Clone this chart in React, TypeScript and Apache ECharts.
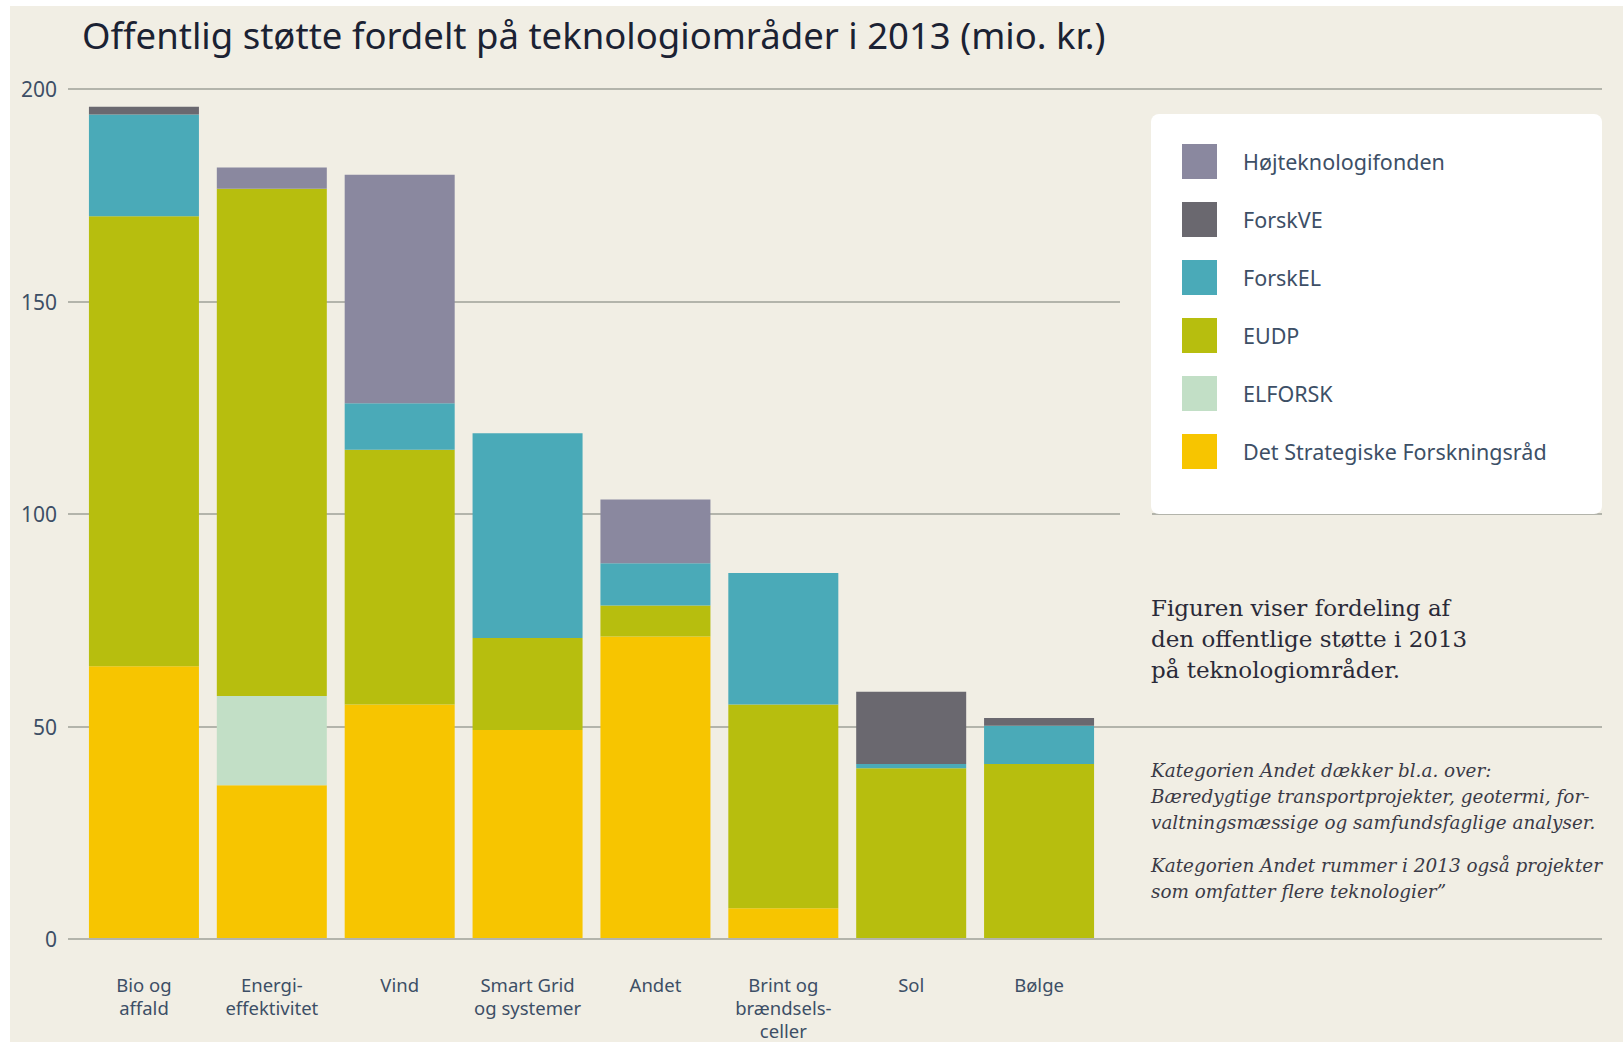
import React, { useEffect, useRef } from "react";
import * as echarts from "echarts";

const categories = [
  "Bio og\naffald",
  "Energi-\neffektivitet",
  "Vind",
  "Smart Grid\nog systemer",
  "Andet",
  "Brint og\nbrændsels-\nceller",
  "Sol",
  "Bølge",
];

const dsf = [64, 36, 55, 49, 71, 7, 0, 0];
const elforsk = [0, 21, 0, 0, 0, 0, 0, 0];
const eudp = [106, 119.5, 60, 21.7, 7.3, 48, 40, 41];
const forskEL = [24, 0, 11, 48.2, 10, 31, 1, 9];
const forskVE = [1.8, 0, 0, 0, 0, 0, 17, 1.8];
const hoejtek = [0, 5, 53.8, 0, 15, 0, 0, 0];

const yTicks = { min: 0, max: 200, interval: 50 };

const seriesDefs = [
  { name: "Det Strategiske Forskningsråd", data: dsf, color: "#f7c500" },
  { name: "ELFORSK", data: elforsk, color: "#c2dfc6" },
  { name: "EUDP", data: eudp, color: "#b7be0e" },
  { name: "ForskEL", data: forskEL, color: "#4aaab8" },
  { name: "ForskVE", data: forskVE, color: "#6a686f" },
  { name: "Højteknologifonden", data: hoejtek, color: "#8a889f" },
];

const legendOrder = [
  "Højteknologifonden",
  "ForskVE",
  "ForskEL",
  "EUDP",
  "ELFORSK",
  "Det Strategiske Forskningsråd",
];

const title = "Offentlig støtte fordelt på teknologiområder i 2013 (mio. kr.)";
const note1 = "Figuren viser fordeling af\nden offentlige støtte i 2013\npå teknologiområder.";
const note2 =
  "Kategorien Andet dækker bl.a. over:\nBæredygtige transportprojekter, geotermi, for-\nvaltningsmæssige og samfundsfaglige analyser.";
const note3 = "Kategorien Andet rummer i 2013 også projekter\nsom omfatter flere teknologier”";

const BG = "#f1eee4";
const LABEL = "#3d4f66";

export default function App() {
  const ref = useRef<HTMLDivElement>(null);
  useEffect(() => {
    if (!ref.current) return;
    const chart = echarts.init(ref.current, null, { renderer: "svg" });
    chart.setOption({
      animation: false,
      backgroundColor: BG,
      title: {
        text: title,
        left: 82,
        top: 14,
        padding: 0,
        textStyle: {
          fontFamily: "Noto Sans",
          fontSize: 36.5,
          fontWeight: "normal",
          color: "#1b2233",
          lineHeight: 42,
        },
      },
      grid: [
        { left: 68, right: 21, top: 89, bottom: 103 },
        { left: 80, right: 520, top: 89, bottom: 103 },
      ],
      xAxis: [
        { type: "value", gridIndex: 0, show: false, min: 0, max: 1 },
        {
          type: "category",
          gridIndex: 1,
          data: categories,
          axisLine: { show: false },
          axisTick: { show: false },
          axisLabel: {
            margin: 35,
            fontFamily: "Noto Sans",
            fontSize: 18.5,
            lineHeight: 23,
            color: LABEL,
            interval: 0,
          },
        },
      ],
      yAxis: [
        {
          type: "value",
          gridIndex: 0,
          ...yTicks,
          axisLine: { show: false },
          axisTick: { show: false },
          axisLabel: {
            margin: 11,
            fontFamily: "Noto Sans",
            fontSize: 21,
            color: LABEL,
          },
          splitLine: { lineStyle: { color: "#b3b4ab", width: 2 } },
        },
        {
          type: "value",
          gridIndex: 1,
          ...yTicks,
          show: false,
          splitLine: { show: false },
        },
      ],
      legend: {
        orient: "vertical",
        left: 1182,
        top: 144,
        padding: 0,
        itemWidth: 35,
        itemHeight: 35,
        itemGap: 23,
        icon: "rect",
        z: 20,
        data: legendOrder,
        selectedMode: false,
        textStyle: {
          fontFamily: "Noto Sans",
          fontSize: 21.5,
          color: LABEL,
          padding: [0, 0, 0, 21],
        },
      },
      graphic: [
        { type: "rect", z: -5, shape: { x: 0, y: 0, width: 1623, height: 6 }, style: { fill: "#ffffff" } },
        { type: "rect", z: -5, shape: { x: 0, y: 0, width: 10, height: 1042 }, style: { fill: "#ffffff" } },
        { type: "rect", z: 5, shape: { x: 1120, y: 280, width: 32, height: 250 }, style: { fill: BG } },
        {
          type: "rect",
          z: 6,
          shape: { x: 1151, y: 114, width: 451, height: 400, r: 8 },
          style: { fill: "#ffffff" },
        },
        {
          type: "text",
          z: 6,
          style: {
            x: 1151,
            y: 592,
            text: note1,
            font: "23px 'DejaVu Serif'",
            lineHeight: 31,
            fill: "#2a2a38",
          },
        },
        {
          type: "text",
          z: 6,
          style: {
            x: 1151,
            y: 757,
            text: note2,
            font: "italic 18.4px 'DejaVu Serif'",
            lineHeight: 26,
            fill: "#3a3a46",
          },
        },
        {
          type: "text",
          z: 6,
          style: {
            x: 1151,
            y: 852,
            text: note3,
            font: "italic 18.4px 'DejaVu Serif'",
            lineHeight: 26,
            fill: "#3a3a46",
          },
        },
      ],
      series: seriesDefs.map((s) => ({
        name: s.name,
        type: "bar",
        stack: "total",
        xAxisIndex: 1,
        yAxisIndex: 1,
        barWidth: 110,
        data: s.data,
        itemStyle: { color: s.color },
      })),
    });
    return () => chart.dispose();
  }, []);
  return (
    <div
      ref={ref}
      style={{ position: "fixed", left: 0, top: 0, width: 1623, height: 1042 }}
    />
  );
}
